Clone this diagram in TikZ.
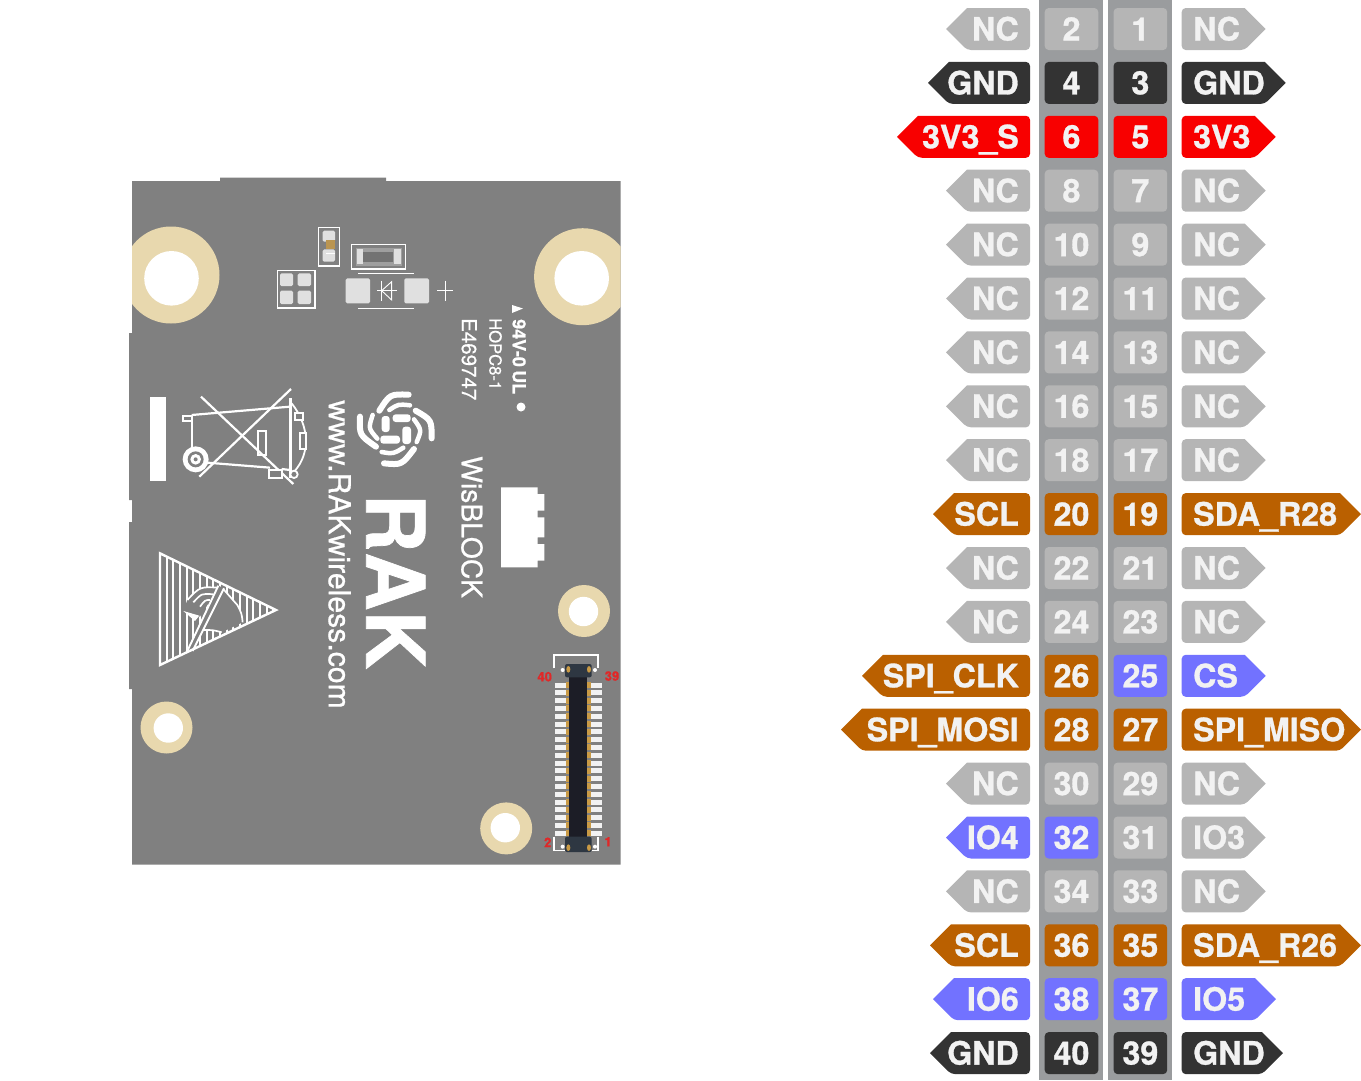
\documentclass[tikz,border=0pt]{standalone}
\usepackage{fontspec}
\setmainfont[BoldFeatures={FakeBold=0.9}]{TeX Gyre Heros}
\newfontfamily\boardfont[FakeBold=0.7]{TeX Gyre Heros}
\definecolor{pcbgray}{HTML}{808080}
\definecolor{strip}{HTML}{9A9C9E}
\definecolor{ncgray}{HTML}{B5B5B5}
\definecolor{gndblack}{HTML}{333333}
\definecolor{pwrred}{HTML}{F80000}
\definecolor{busorange}{HTML}{BA6000}
\definecolor{ioblue}{HTML}{7272FF}
\definecolor{pintext}{HTML}{F2F2F2}
\definecolor{ringtan}{HTML}{E8D8AE}
\definecolor{padgray}{HTML}{E0E0E0}
\definecolor{padwhite}{HTML}{F2F2F2}
\definecolor{silk}{HTML}{FFFFFF}
\definecolor{conblack}{HTML}{1C1D26}
\definecolor{conend}{HTML}{2E3742}
\definecolor{congold}{HTML}{C99A45}
\definecolor{markred}{HTML}{E02828}
\tikzset{
  pinbox/.style={minimum width=53.6pt, minimum height=42pt, inner sep=0pt, rounded corners=4pt,
    text=pintext, text height=23pt, text depth=0pt, font=\fontsize{32.2}{32}\selectfont\bfseries},
  pinlabel/.style={inner sep=0pt, text=pintext, text height=23pt, text depth=0pt,
    font=\fontsize{32.2}{32}\selectfont\bfseries},
  silkline/.style={draw=silk, line width=1.3pt},
  pad/.style={fill=padgray, rounded corners=1.5pt},
  markup/.style={inner sep=0pt, text=markred, font=\fontsize{13}{13}\selectfont\bfseries},
  boardtext/.style={inner sep=0pt, text=silk, rotate=-90}
}
% number, colour, text, x of the tip
\newcommand{\leftpin}[4]{%
  \pgfmathsetmacro{\rowy}{29+53.9*(ceil(#1/2)-1)}
  \fill[#2] (#4,\rowy) -- ({#4+21},{\rowy-21}) [rounded corners=4pt] -- (1030,{\rowy-21})
    -- (1030,{\rowy+21}) -- ({#4+21},{\rowy+21}) [sharp corners] -- cycle;
  \node[pinlabel, anchor=east] (lbl#1) at (1019,\rowy) {#3};
  \node[pinbox, fill=#2] (pin#1) at (1071.5,\rowy) {#1};
}
\newcommand{\rightpin}[4]{%
  \pgfmathsetmacro{\rowy}{29+53.9*(ceil(#1/2)-1)}
  \fill[#2] (#4,\rowy) -- ({#4-21},{\rowy-21}) [rounded corners=4pt] -- (1181.7,{\rowy-21})
    -- (1181.7,{\rowy+21}) -- ({#4-21},{\rowy+21}) [sharp corners] -- cycle;
  \node[pinlabel, anchor=west] (lbl#1) at (1193,\rowy) {#3};
  \node[pinbox, fill=#2] (pin#1) at (1140.4,\rowy) {#1};
}
\begin{document}
\begin{tikzpicture}[x=1pt, y=-1pt]
  \useasboundingbox (0,0) rectangle (1361,1080);

  % board outline
  \fill[pcbgray] (132,181) -- (220,181) -- (220,177.5) -- (386,177.5) -- (386,181) -- (620.5,181)
    -- (620.5,864.5) -- (132,864.5) -- (132,689) -- (129,689) -- (129,522) -- (132,522)
    -- (132,500) -- (129,500) -- (129,333) -- (132,333) -- cycle;

  % mounting holes
  \begin{scope}
    \clip (132,181) rectangle (620.5,864.5);
    \fill[ringtan] (171,275) circle (48.5);
    \fill[ringtan] (582.6,276.7) circle (48.5);
  \end{scope}
  \fill[white] (171.5,278.3) circle (27.3);
  \fill[white] (581.7,278.3) circle (27.3);
  \fill[ringtan] (584,611) circle (26);
  \fill[white] (583.5,611.5) circle (14.7);
  \fill[ringtan] (166.5,727.5) circle (26);
  \fill[white] (168.3,728) circle (14.7);
  \fill[ringtan] (506.2,828.4) circle (26);
  \fill[white] (505.3,827.7) circle (14.7);

  % parts near the top
  \begin{scope}[shift={(300,210)}, scale=1/3]
    \draw[silkline] (55,53) rectangle (118,168);
    \fill[pad] (68,62) rectangle (105,95);
    \fill[pad] (68,118) rectangle (105,155);
    \fill[congold!80!gray] (78,90) rectangle (105,118);
    \draw[silk] (78,130) -- (105,130);
    \draw[silkline] (155,103) rectangle (316,177);
    \fill[gray!75!white] (167,113) rectangle (305,167);
    \fill[gray!90!black] (190,125) rectangle (280,155);
    \fill[padgray] (170,116) rectangle (188,162);
    \fill[padgray] (282,116) rectangle (302,162);
    \fill[pad] (137,205) rectangle (210,280);
    \fill[pad] (313,205) rectangle (387,280);
    \draw[silkline] (175,190) -- (342,190);
    \draw[silkline] (175,295) -- (342,295);
    \draw[silk, line width=.9pt] (232,242) -- (290,242);
    \draw[silk, line width=.9pt] (245,212) -- (245,272);
    \draw[silk, line width=.9pt] (245,242) -- (275,215) -- (275,270) -- cycle;
    \draw[silk, line width=.9pt] (412,242) -- (460,242);
    \draw[silk, line width=.9pt] (436,212) -- (436,272);
  \end{scope}
  \begin{scope}[shift={(120,170)}, scale=1/3]
    \draw[silkline] (472,302) rectangle (585,414);
    \fill[pad] (480,310) rectangle (519,348);
    \fill[pad] (533,310) rectangle (573,348);
    \fill[pad] (480,362) rectangle (519,402);
    \fill[pad] (533,362) rectangle (573,402);
  \end{scope}

  % bar and crossed bin
  \fill[silk] (150,396.7) rectangle (166,481);
  \begin{scope}[shift={(120,170)}, scale=1/3]
    \draw[silk, line width=2.2pt] (215,735) -- (510,710);
    \draw[silk, line width=2.2pt] (215,735) -- (215,835);
    \draw[silk, line width=2.2pt] (262,878) -- (450,893);
    \draw[silk, line width=2.2pt] (485,897) -- (510,900);
    \draw[silk, line width=1.8pt] (190,737) rectangle (215,752);
    \draw[silk, line width=2.2pt] (243,680) -- (520,942);
    \draw[silk, line width=2.2pt] (238,920) -- (513,657);
    \draw[silk, line width=3pt] (510,685) -- (510,925);
    \draw[silk, line width=1.8pt] (515,700) .. controls (570,770) and (570,850) .. (525,902);
    \draw[silk, line width=1.8pt] (415,782) rectangle (437,855);
    \draw[silk, line width=1.8pt, fill=pcbgray] (540,790) rectangle (557,838);
    \draw[silk, line width=1.8pt, fill=pcbgray] (525,728) rectangle (550,750);
    \draw[silk, line width=1.8pt, fill=pcbgray] (447,900) rectangle (485,925);
    \draw[silk, line width=1.8pt, fill=pcbgray] (522,913) circle (11);
    \fill[silk] (227,868) circle (39);
    \fill[pcbgray] (227,868) circle (24);
    \fill[silk] (227,868) circle (16);
    \fill[pcbgray] (227,868) circle (6);
  \end{scope}

  % hatched triangle
  \begin{scope}[shift={(150,545)}, scale=1/3]
    \begin{scope}
      \clip (30,25) -- (30,360) -- (378,195) -- cycle;
      \foreach \hx in {50,70,...,370}
        \draw[silk, line width=2pt] (\hx,20) -- (\hx,365);
    \end{scope}
    \fill[pcbgray] (218,130) -- (262,180) .. controls (275,205) .. (278,232) -- (215,262)
      .. controls (190,255) .. (160,255) -- cycle;
    \fill[pcbgray] (112,165) .. controls (150,125) .. (205,128) -- (150,215) -- (100,198) -- cycle;
    \draw[silk, line width=1.7pt] (112,165) .. controls (150,125) .. (205,128);
    \draw[silk, line width=1.7pt] (130,172) .. controls (155,145) .. (190,148);
    \draw[silk, line width=1.7pt] (150,185) .. controls (165,165) .. (180,165);
    \fill[silk] (100,198) -- (148,212) -- (135,228) -- cycle;
    \draw[silk, line width=1.7pt] (218,130) -- (262,180) .. controls (275,205) .. (278,232);
    \draw[silk, line width=1.7pt] (160,255) .. controls (190,255) .. (215,262);
    \fill[pcbgray] (205,122) -- (222,130) -- (128,318) -- (110,322) -- cycle;
    \draw[silk, line width=1.9pt] (205,122) -- (110,322);
    \draw[silk, line width=1.9pt] (222,130) -- (128,318);
    \draw[silk, line width=2.4pt, line join=miter] (30,25) -- (30,360) -- (378,195) -- cycle;
  \end{scope}

  % logo
  \begin{scope}[shift={(350,380)}, scale=1/3]
    \draw[silk, line width=6pt, line cap=round] (88,92) .. controls (120,42) .. (176,44);
    \draw[silk, line width=6pt, line cap=round] (197,92) .. controls (245,120) .. (245,175);
    \draw[silk, line width=6pt, line cap=round] (102,250) .. controls (155,255) .. (192,207);
    \draw[silk, line width=6pt, line cap=round] (30,110) .. controls (28,165) .. (78,200);
    \draw[silk, line width=4.5pt, line cap=round] (118,90) .. controls (145,72) .. (180,76);
    \draw[silk, line width=4.5pt, line cap=round] (192,118) .. controls (215,150) .. (200,186);
    \draw[silk, line width=4.5pt, line cap=round] (95,216) .. controls (130,222) .. (160,203);
    \draw[silk, line width=4.5pt, line cap=round] (68,105) .. controls (55,145) .. (82,176);
    \fill[silk, rounded corners=3pt] (95,108) rectangle (119,156);
    \fill[silk, rounded corners=3pt] (128,103) rectangle (182,126);
    \fill[silk, rounded corners=3pt] (157,140) rectangle (183,192);
    \fill[silk, rounded corners=3pt] (91,167) rectangle (150,191);
  \end{scope}

  % notched block
  \begin{scope}[shift={(440,440)}, scale=1/3]
    \fill[silk] (183,142) -- (293,142) -- (293,162) -- (313,162) -- (313,212) -- (293,212)
      -- (293,232) -- (313,232) -- (313,292) -- (293,292) -- (293,312) -- (313,312)
      -- (313,362) -- (293,362) -- (293,382) -- (183,382) -- cycle;
  \end{scope}

  % board texts
  \node[boardtext, anchor=north west, font=\fontsize{30.2}{30}\boardfont] (site) at (351,400) {www.RAKwireless.com};
  \node[boardtext, anchor=north west, font=\fontsize{81}{81}\selectfont\bfseries] (rak) at (425.5,493.5) {RAK};
  \node[boardtext, anchor=north west, font=\fontsize{28.3}{29}\boardfont] (wis) at (483,456) {WisBLOCK};
  \node[boardtext, anchor=north west, font=\fontsize{20.5}{21}\boardfont] (cert) at (477,318) {E469747};
  \node[boardtext, anchor=north west, font=\fontsize{16.6}{17}\boardfont] (hopc) at (502,318) {HOPC8-1};
  \node[boardtext, anchor=north west, font=\fontsize{18}{19}\selectfont\bfseries] (vzero) at (526,319) {94V-0};
  \node[boardtext, anchor=north west, font=\fontsize{18}{19}\selectfont\bfseries] (ulmark) at (526,370) {UL};
  \fill[silk] (512,305) -- (523,308.5) -- (512,313) -- cycle;
  \fill[silk] (521,407) circle (4.5);

  % board connector
  \begin{scope}[shift={(470,640)}, scale=1/3]
    \foreach \py in {135,158.4,...,580} {
      \fill[padwhite] (254,{\py-7.5}) rectangle (288,{\py+7.5});
      \fill[padwhite] (362,{\py-7.5}) rectangle (396,{\py+7.5});
      \fill[congold] (288,{\py-9}) rectangle (300,{\py+9});
      \fill[congold] (352,{\py-9}) rectangle (362,{\py+9});
    }
    \draw[silkline] (252,85) -- (252,45) -- (384,45) -- (384,85);
    \draw[silkline] (252,590) -- (252,632) -- (285,632);
    \draw[silkline] (384,590) -- (384,632) -- (365,632);
    \fill[silk] (278,90) circle (6);
    \fill[silk] (375,90) circle (6);
    \fill[silk] (278,620) circle (6);
    \fill[silk] (375,620) circle (6);
    \fill[conblack] (298,105) rectangle (352,595);
    \fill[conend, rounded corners=2pt] (285,72) rectangle (365,112);
    \fill[conend, rounded corners=2pt] (285,590) rectangle (365,636);
    \foreach \gx in {295,357} {
      \fill[congold] (\gx,88) ellipse (6 and 10);
      \fill[congold] (\gx,623) ellipse (6 and 10);
    }
  \end{scope}
  \node[markup] (mark40) at (544.7,676.7) {40};
  \node[markup] (mark39) at (612,676) {39};
  \node[markup] (mark2) at (547.7,842.3) {2};
  \node[markup] (mark1) at (608,841.7) {1};

  % pin strips
  \fill[strip] (1039,0) rectangle (1103,1080);
  \fill[strip] (1108,0) rectangle (1172,1080);

  % left column
  \leftpin{2}{ncgray}{NC}{946}
  \leftpin{4}{gndblack}{GND}{928}
  \leftpin{6}{pwrred}{3V3\_S}{897}
  \leftpin{8}{ncgray}{NC}{946}
  \leftpin{10}{ncgray}{NC}{946}
  \leftpin{12}{ncgray}{NC}{946}
  \leftpin{14}{ncgray}{NC}{946}
  \leftpin{16}{ncgray}{NC}{946}
  \leftpin{18}{ncgray}{NC}{946}
  \leftpin{20}{busorange}{SCL}{933}
  \leftpin{22}{ncgray}{NC}{946}
  \leftpin{24}{ncgray}{NC}{946}
  \leftpin{26}{busorange}{SPI\_CLK}{862}
  \leftpin{28}{busorange}{SPI\_MOSI}{841}
  \leftpin{30}{ncgray}{NC}{946}
  \leftpin{32}{ioblue}{IO4}{946}
  \leftpin{34}{ncgray}{NC}{946}
  \leftpin{36}{busorange}{SCL}{930}
  \leftpin{38}{ioblue}{IO6}{933}
  \leftpin{40}{gndblack}{GND}{930}

  % right column
  \rightpin{1}{ncgray}{NC}{1265.7}
  \rightpin{3}{gndblack}{GND}{1285.7}
  \rightpin{5}{pwrred}{3V3}{1275.7}
  \rightpin{7}{ncgray}{NC}{1265.7}
  \rightpin{9}{ncgray}{NC}{1265.7}
  \rightpin{11}{ncgray}{NC}{1265.7}
  \rightpin{13}{ncgray}{NC}{1265.7}
  \rightpin{15}{ncgray}{NC}{1265.7}
  \rightpin{17}{ncgray}{NC}{1265.7}
  \rightpin{19}{busorange}{SDA\_R28}{1361}
  \rightpin{21}{ncgray}{NC}{1265.7}
  \rightpin{23}{ncgray}{NC}{1265.7}
  \rightpin{25}{ioblue}{CS}{1265.7}
  \rightpin{27}{busorange}{SPI\_MISO}{1361}
  \rightpin{29}{ncgray}{NC}{1265.7}
  \rightpin{31}{ncgray}{IO3}{1265.7}
  \rightpin{33}{ncgray}{NC}{1265.7}
  \rightpin{35}{busorange}{SDA\_R26}{1361}
  \rightpin{37}{ioblue}{IO5}{1276}
  \rightpin{39}{gndblack}{GND}{1283}
\end{tikzpicture}
\end{document}
